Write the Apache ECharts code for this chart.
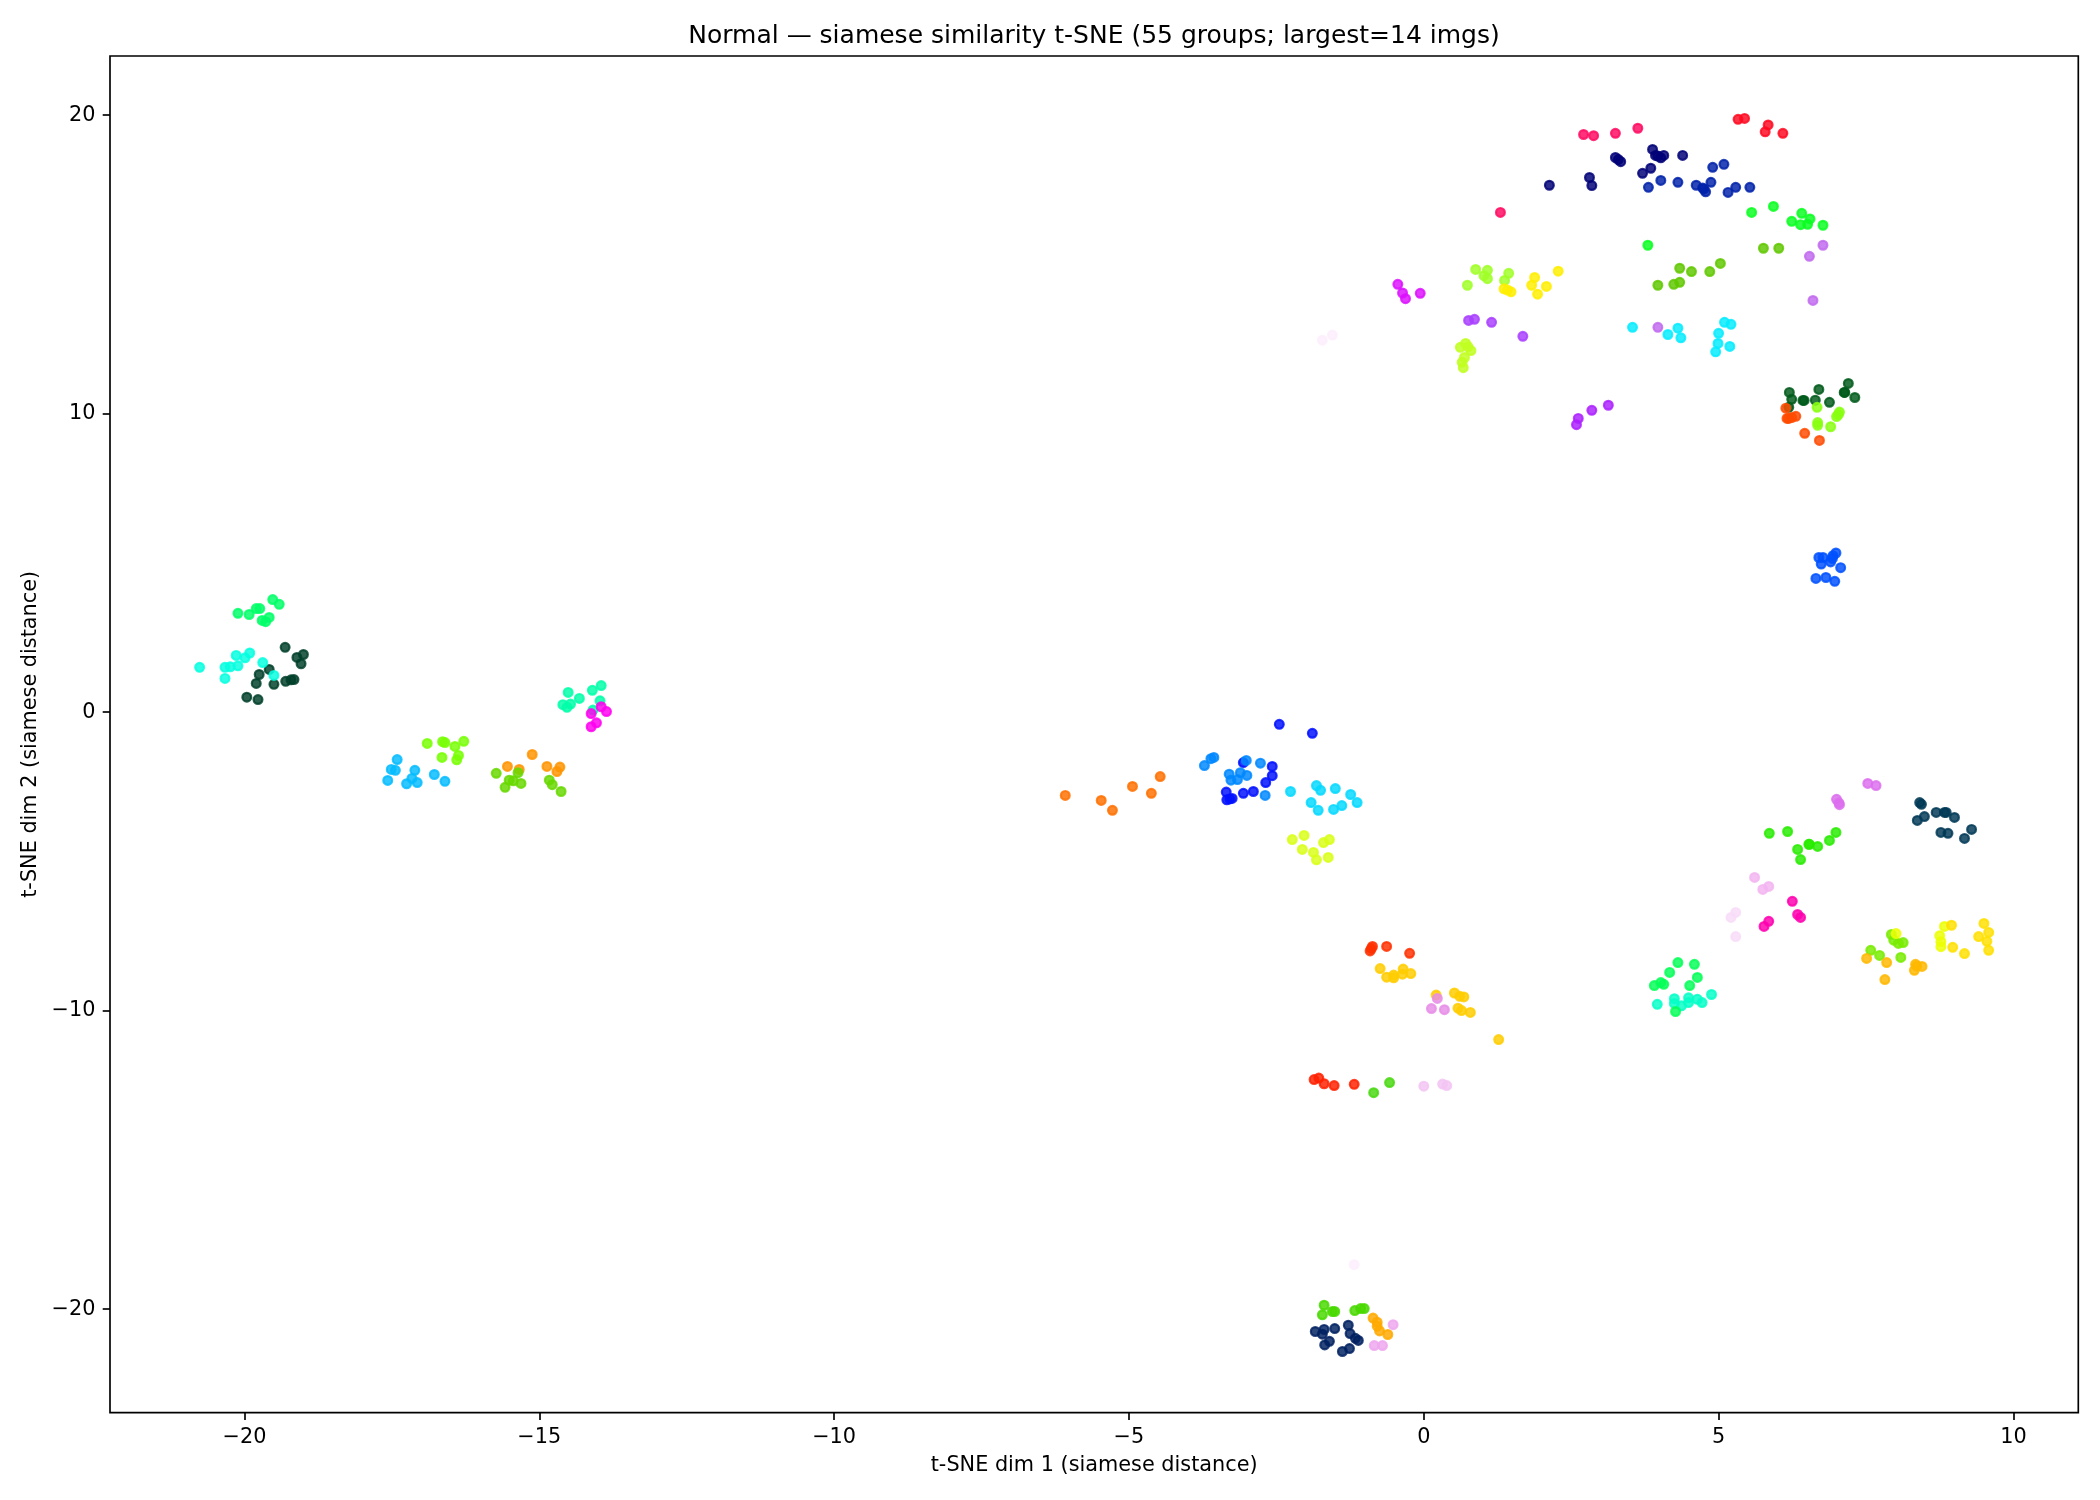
<!DOCTYPE html>
<html>
<head>
<meta charset="utf-8">
<style>html,body{margin:0;padding:0;background:#fff}#c{width:2100px;height:1500px}</style>
<script src="https://cdn.jsdelivr.net/npm/echarts@6/dist/echarts.min.js"></script>
</head>
<body>
<div id="c"></div>
<script>
const titleText = "Normal \u2014 siamese similarity t-SNE (55 groups; largest=14 imgs)";
const xLabel = "t-SNE dim 1 (siamese distance)";
const yLabel = "t-SNE dim 2 (siamese distance)";
const xTicks = [-20,-15,-10,-5,0,5,10];
const yTicks = [-20,-10,0,10,20];

const darkTealA = [[-19.31,2.17],[-19.11,1.83],[-19.00,1.93],[-19.04,1.62],[-19.58,1.43],[-19.75,1.26],[-19.80,0.96],[-19.50,0.93],[-19.30,1.03],[-19.21,1.08],[-19.16,1.09],[-19.96,0.50],[-19.77,0.42]];
const navyA = [[2.13,17.65],[2.81,17.91],[2.85,17.64],[3.25,18.58],[3.30,18.51],[3.34,18.44],[3.71,18.05],[3.85,18.22],[3.88,18.85],[3.93,18.65],[3.97,18.63],[4.02,18.57],[4.07,18.65],[4.39,18.65]];
const navyB = [[3.81,17.58],[4.02,17.81],[4.31,17.75],[4.62,17.65],[4.73,17.56],[4.78,17.43],[4.87,17.75],[4.90,18.25],[5.09,18.35],[5.16,17.41],[5.29,17.58],[5.53,17.58],[4.75,17.52]];
const navyC = [[-1.84,-20.75],[-1.72,-20.84],[-1.69,-20.68],[-1.51,-20.65],[-1.68,-21.20],[-1.60,-21.08],[-1.38,-21.42],[-1.26,-21.32],[-1.28,-20.54],[-1.25,-20.82],[-1.16,-20.98],[-1.11,-21.05]];
const darkGreen = [[6.20,10.71],[6.24,10.48],[6.19,10.21],[6.43,10.44],[6.45,10.44],[6.64,10.45],[6.70,10.81],[6.88,10.38],[7.14,10.71],[7.20,11.01],[7.31,10.54],[7.13,10.71]];
const darkTealB = [[8.41,-3.03],[8.44,-3.09],[8.49,-3.50],[8.37,-3.63],[8.69,-3.36],[8.83,-3.36],[8.86,-3.36],[9.00,-3.53],[8.77,-4.03],[8.89,-4.06],[9.29,-3.93],[9.17,-4.23]];
const crimson = [[2.71,19.35],[2.88,19.31],[3.25,19.39],[3.63,19.56],[1.30,16.74]];
const red = [[5.33,19.86],[5.44,19.89],[5.84,19.67],[5.79,19.44],[6.09,19.39]];
const neonGreen = [[5.56,16.74],[5.93,16.94],[6.24,16.44],[6.41,16.71],[6.55,16.52],[6.39,16.33],[6.51,16.34],[6.77,16.31],[3.80,15.64]];
const oliveGreen = [[5.76,15.54],[6.02,15.54],[4.34,14.87],[4.54,14.76],[4.85,14.76],[5.03,15.03],[3.97,14.30],[4.24,14.33],[4.34,14.40]];
const lightPurple = [[6.77,15.64],[6.54,15.27],[6.60,13.79],[3.97,12.89]];
const cyanA = [[3.54,12.89],[4.14,12.65],[4.31,12.86],[4.36,12.54],[5.00,12.69],[4.99,12.35],[4.95,12.07],[5.10,13.06],[5.21,12.99],[5.19,12.25]];
const magentaPurple = [[-0.44,14.33],[-0.36,14.04],[-0.31,13.85],[-0.06,14.03]];
const limeA = [[0.88,14.83],[1.08,14.80],[1.02,14.62],[1.08,14.52],[1.44,14.70],[1.37,14.46],[0.74,14.30]];
const yellowA = [[1.36,14.18],[1.42,14.14],[1.48,14.08],[1.83,14.30],[1.88,14.56],[1.93,14.00],[2.08,14.26],[2.28,14.77]];
const purple = [[0.76,13.12],[0.86,13.16],[1.15,13.06],[1.68,12.59]];
const limeB = [[0.71,12.35],[0.62,12.22],[0.80,12.11],[0.69,11.88],[0.65,11.72],[0.67,11.54],[0.75,12.24]];
const violet = [[2.62,9.84],[2.59,9.63],[2.85,10.11],[3.13,10.28]];
const orangeRed = [[6.14,10.18],[6.16,9.84],[6.24,9.87],[6.31,9.91],[6.46,9.34],[6.71,9.10],[6.19,9.84]];
const limeC = [[6.67,10.21],[7.05,10.05],[7.00,9.90],[7.03,9.97],[6.68,9.70],[6.68,9.61],[6.90,9.56]];
const blueA = [[6.70,5.18],[6.77,5.18],[6.74,4.96],[6.90,5.03],[6.94,5.24],[6.99,5.33],[7.07,4.84],[6.65,4.48],[6.82,4.51],[6.97,4.38],[6.93,5.15]];
const springA = [[-20.11,3.31],[-19.92,3.27],[-19.80,3.47],[-19.74,3.47],[-19.70,3.07],[-19.64,3.03],[-19.58,3.17],[-19.52,3.77],[-19.41,3.61]];
const aquaA = [[-20.76,1.50],[-20.33,1.50],[-20.24,1.52],[-20.11,1.55],[-20.33,1.13],[-20.14,1.90],[-19.99,1.82],[-19.91,1.98],[-19.69,1.66],[-19.50,1.23]];
const aquamarineA = [[-14.51,0.66],[-14.32,0.46],[-14.10,0.73],[-13.95,0.89],[-13.97,0.38],[-14.60,0.25],[-14.53,0.16],[-14.47,0.27],[-14.09,0.07]];
const magenta = [[-14.12,-0.05],[-13.95,0.18],[-13.86,0.02],[-14.03,-0.36],[-14.12,-0.49]];
const lawn = [[-16.90,-1.05],[-16.64,-0.99],[-16.60,-1.02],[-16.43,-1.15],[-16.28,-0.98],[-16.37,-1.45],[-16.65,-1.52],[-16.40,-1.60]];
const sky = [[-17.41,-1.59],[-17.51,-1.92],[-17.44,-1.95],[-17.57,-2.29],[-17.11,-1.95],[-17.16,-2.22],[-17.25,-2.40],[-17.07,-2.36],[-16.78,-2.09],[-16.60,-2.32]];
const orangeA = [[-15.54,-1.82],[-15.34,-1.92],[-15.12,-1.42],[-14.87,-1.82],[-14.65,-1.84],[-14.70,-1.99]];
const grass = [[-15.73,-2.05],[-15.36,-2.03],[-15.51,-2.28],[-15.44,-2.30],[-15.31,-2.39],[-15.58,-2.52],[-14.83,-2.28],[-14.78,-2.43],[-14.63,-2.66]];
const orangeB = [[-6.08,-2.79],[-5.47,-2.96],[-5.28,-3.29],[-4.94,-2.49],[-4.62,-2.72],[-4.47,-2.16]];
const blueB = [[-2.45,-0.41],[-1.89,-0.71],[-3.06,-1.69],[-2.57,-1.82],[-2.57,-2.13],[-2.68,-2.36],[-2.89,-2.66],[-3.06,-2.72],[-3.35,-2.68],[-3.34,-2.94],[-3.25,-2.89],[-3.29,-2.91]];
const azure = [[-3.72,-1.79],[-3.61,-1.56],[-3.56,-1.52],[-3.01,-1.62],[-2.77,-1.71],[-3.30,-2.08],[-3.11,-2.03],[-3.00,-2.12],[-3.16,-2.26],[-3.27,-2.28],[-2.69,-2.79]];
const cyanB = [[-2.26,-2.66],[-1.82,-2.46],[-1.75,-2.62],[-1.50,-2.56],[-1.24,-2.76],[-1.13,-3.03],[-1.39,-3.13],[-1.53,-3.26],[-1.79,-3.29],[-1.91,-3.03]];
const yellowLimeA = [[-2.23,-4.27],[-2.03,-4.13],[-2.06,-4.60],[-1.87,-4.70],[-1.82,-4.95],[-1.70,-4.37],[-1.60,-4.27],[-1.62,-4.87]];
const redOrange = [[-0.87,-7.85],[-0.89,-7.92],[-0.91,-8.00],[-0.63,-7.85],[-0.24,-8.08]];
const amberA = [[-0.74,-8.59],[-0.63,-8.88],[-0.51,-8.81],[-0.51,-8.90],[-0.35,-8.61],[-0.36,-8.78],[-0.22,-8.76],[0.21,-9.48],[0.52,-9.41],[0.61,-9.52],[0.68,-9.54],[0.58,-9.92],[0.64,-10.00],[0.79,-10.06],[1.27,-10.97]];
const orchidPink = [[0.23,-9.59],[0.13,-9.93],[0.35,-9.97]];
const redB = [[-1.86,-12.31],[-1.78,-12.26],[-1.69,-12.45],[-1.52,-12.51],[-1.18,-12.47]];
const greenB = [[-0.85,-12.75],[-0.58,-12.41]];
const palePink = [[0.00,-12.53],[0.32,-12.46],[0.39,-12.51]];
const orchid = [[7.53,-2.39],[7.67,-2.46],[7.00,-2.92],[7.04,-3.04],[7.05,-3.10]];
const greenC = [[5.86,-4.06],[6.17,-4.00],[6.34,-4.60],[6.39,-4.94],[6.53,-4.43],[6.54,-4.43],[6.68,-4.50],[6.88,-4.30],[6.99,-4.03]];
const lilac = [[5.61,-5.54],[5.75,-5.94],[5.85,-5.84]];
const veryPale = [[5.29,-6.71],[5.21,-6.88],[5.29,-7.52]];
const hotPink = [[6.25,-6.34],[6.34,-6.78],[6.39,-6.88],[5.85,-7.01],[5.77,-7.18]];
const aquamarineB = [[3.96,-9.79],[4.25,-9.60],[4.25,-9.76],[4.37,-9.84],[4.49,-9.57],[4.49,-9.73],[4.64,-9.62],[4.72,-9.73],[4.88,-9.46]];
const springB = [[4.31,-8.39],[4.59,-8.45],[4.17,-8.72],[4.64,-8.89],[4.02,-9.06],[4.07,-9.12],[3.91,-9.16],[4.51,-9.16],[4.27,-10.03]];
const limeD = [[7.58,-7.98],[7.73,-8.15],[7.93,-7.45],[7.97,-7.64],[8.05,-7.75],[8.13,-7.72],[8.09,-8.22]];
const amberB = [[7.51,-8.25],[7.85,-8.39],[7.82,-8.96],[8.34,-8.45],[8.45,-8.52],[8.32,-8.65],[8.36,-8.51]];
const yellowLimeB = [[8.01,-7.42],[8.83,-7.18],[8.75,-7.49],[8.77,-7.69],[8.77,-7.86]];
const yellowB = [[8.95,-7.14],[8.97,-7.88],[9.17,-8.09],[9.41,-7.52],[9.50,-7.08],[9.58,-7.38],[9.55,-7.68],[9.58,-7.98]];
const greenD = [[-1.69,-19.87],[-1.72,-20.19],[-1.55,-20.08],[-1.51,-20.08],[-1.17,-20.05],[-1.07,-19.98],[-1.01,-19.98]];
const amberC = [[-0.86,-20.30],[-0.79,-20.44],[-0.79,-20.57],[-0.75,-20.73],[-0.61,-20.85]];
const pinkC = [[-0.52,-20.52],[-0.84,-21.22],[-0.70,-21.22]];
const ghost = [[-1.72,12.46],[-1.55,12.63],[-1.18,-18.51]];

const groupData = [darkTealA,navyA,navyB,navyC,darkGreen,darkTealB,crimson,red,neonGreen,oliveGreen,lightPurple,cyanA,magentaPurple,limeA,yellowA,purple,limeB,violet,orangeRed,limeC,blueA,springA,aquaA,aquamarineA,magenta,lawn,sky,orangeA,grass,orangeB,blueB,azure,cyanB,yellowLimeA,redOrange,amberA,orchidPink,redB,greenB,palePink,orchid,greenC,lilac,veryPale,hotPink,aquamarineB,springB,limeD,amberB,yellowLimeB,yellowB,greenD,amberC,pinkC,ghost];
const groupColors = ["#00402a","#000077","#0022aa","#002060","#005a1a","#003855","#ff0a60","#ff0a20","#08ff20","#60c800","#c06aee","#05ecff","#dc10ff","#a0ff28","#ffee00","#a840ff","#c0ff20","#ac20ff","#ff4a00","#88ff10","#0050ff","#00ff68","#05ffe0","#00ffa8","#ff00f0","#78ff05","#05bcff","#ff9400","#68d800","#ff7000","#0010ff","#0088ff","#05d8ff","#d8ff18","#ff3000","#ffcc00","#e78de7","#ff2000","#48d810","#f3c4f3","#dc6fee","#28ec00","#f3b4f1","#f8dcf8","#ff00b0","#05ffc8","#05ff58","#78ec00","#ffb800","#ecff05","#ffe000","#48d800","#ffaa00","#eea6ee","#fdeefd"];
const pointAlpha = 0.83;

function rgba(hex){
  const n = parseInt(hex.slice(1),16);
  return "rgba("+(n>>16&255)+","+(n>>8&255)+","+(n&255)+","+pointAlpha+")";
}
const font = "DejaVu Sans";
const black = "#000";
function minus(v){ return String(v).replace("-","\u2212"); }
function axis(name,min,max,ticks,extra,labelExtra){
  return Object.assign({
    type:"value",min:min,max:max,name:name,nameLocation:"middle",
    nameTextStyle:{fontFamily:font,fontSize:20.8,color:black},
    axisLine:{show:false,onZero:false},
    axisTick:{show:true,length:7.3,lineStyle:{color:black,width:1.67},customValues:ticks,inside:false},
    axisLabel:Object.assign({show:true,fontFamily:font,fontSize:20.8,color:black,margin:14.5,customValues:ticks,formatter:minus,showMinLabel:true,showMaxLabel:true,hideOverlap:false},labelExtra),
    splitLine:{show:false}
  },extra);
}
const chart = echarts.init(document.getElementById("c"),null,{renderer:"canvas"});
chart.setOption({
  backgroundColor:"#fff",
  animation:false,
  title:{text:titleText,left:1089,top:18.5,textAlign:"center",textStyle:{fontFamily:font,fontSize:25,fontWeight:"normal",color:black}},
  grid:{left:110,top:56,width:1968.3,height:1356.7,show:true,borderColor:black,borderWidth:1.67,backgroundColor:"#fff",containLabel:false},
  xAxis:axis(xLabel,-22.28,11.10,xTicks,{nameGap:42},{}),
  yAxis:axis(yLabel,-23.47,21.98,yTicks,{nameGap:64,nameRotate:90},{padding:[2,0,0,0]}),
  series:groupData.map(function(d,i){
    return {type:"scatter",data:d,symbol:"circle",symbolSize:8.8,silent:true,
      itemStyle:{color:rgba(groupColors[i]),borderColor:rgba(groupColors[i]),borderWidth:2.2,opacity:1},
      emphasis:{disabled:true}};
  })
});
</script>
</body>
</html>
